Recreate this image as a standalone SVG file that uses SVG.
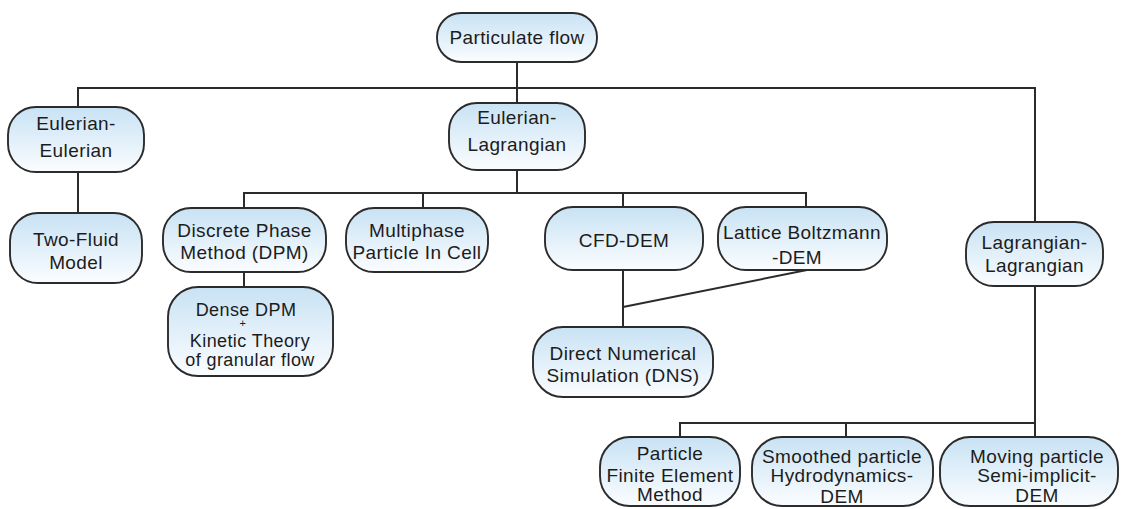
<svg xmlns="http://www.w3.org/2000/svg" width="1121" height="509" viewBox="0 0 1121 509">
  <defs>
    <linearGradient id="boxFill" x1="0" y1="0" x2="0" y2="1">
      <stop offset="0" stop-color="#c8e2f4"/>
      <stop offset="1" stop-color="#fbfdff"/>
    </linearGradient>
  </defs>
  <style>
    .box { fill: url(#boxFill); stroke: #2b2b2b; stroke-width: 1.9; }
    .lbl { font-family: "Liberation Sans", Arial, sans-serif; font-size: 19px; fill: #1c1c1c; text-anchor: middle; letter-spacing: 0.4px; }
    .tight { font-size: 18px; }
    .plus { font-size: 11px; }
    .wire { fill: none; stroke: #2b2b2b; stroke-width: 2; }
  </style>
  <rect width="1121" height="509" fill="#ffffff"/>

  <!-- tree connectors -->
  <g id="connectors" class="wire">
    <path d="M517 62 V103"/>
    <path d="M78 107 V88 H1035 V222"/>
    <path d="M78 172 V213"/>
    <path d="M517 170 V193"/>
    <path d="M244 208 V193 H806 V207"/>
    <path d="M423 193 V208"/>
    <path d="M623 193 V207"/>
    <path d="M244 272 V287"/>
    <path d="M623 270 V327"/>
    <path d="M623 307 L807 270"/>
    <path d="M1035 286 V437"/>
    <path d="M680 437 V423 H1035"/>
    <path d="M846 423 V437"/>
  </g>

  <g id="particulate-flow">
    <rect class="box" x="437" y="13" width="160" height="49" rx="24" ry="24"/>
    <text class="lbl" x="517" y="44">Particulate flow</text>
  </g>

  <g id="eulerian-eulerian">
    <rect class="box" x="8" y="107" width="136" height="65" rx="28" ry="28"/>
    <text class="lbl" x="76" y="130">Eulerian-</text>
    <text class="lbl" x="76" y="157">Eulerian</text>
  </g>

  <g id="eulerian-lagrangian">
    <rect class="box" x="449" y="103" width="136" height="67" rx="28" ry="28"/>
    <text class="lbl" x="517" y="124">Eulerian-</text>
    <text class="lbl" x="517" y="151">Lagrangian</text>
  </g>

  <g id="two-fluid">
    <rect class="box" x="10" y="213" width="132" height="70" rx="28" ry="28"/>
    <text class="lbl" x="76" y="246">Two-Fluid</text>
    <text class="lbl" x="76" y="269">Model</text>
  </g>

  <g id="dpm">
    <rect class="box" x="163" y="208" width="163" height="64" rx="28" ry="28"/>
    <text class="lbl" x="244.5" y="237">Discrete Phase</text>
    <text class="lbl" x="244.5" y="259">Method (DPM)</text>
  </g>

  <g id="mp-pic">
    <rect class="box" x="346" y="208" width="142" height="64" rx="28" ry="28"/>
    <text class="lbl" x="417" y="237">Multiphase</text>
    <text class="lbl" x="417" y="259">Particle In Cell</text>
  </g>

  <g id="cfd-dem">
    <rect class="box" x="545" y="207" width="158" height="63" rx="28" ry="28"/>
    <text class="lbl" x="624" y="247">CFD-DEM</text>
  </g>

  <g id="lbm-dem">
    <rect class="box" x="718" y="207" width="169" height="63" rx="28" ry="28"/>
    <text class="lbl" x="802" y="239">Lattice Boltzmann</text>
    <text class="lbl" x="797" y="264">-DEM</text>
  </g>

  <g id="lagrangian-lagrangian">
    <rect class="box" x="966" y="222" width="137" height="64" rx="28" ry="28"/>
    <text class="lbl" x="1034.5" y="249">Lagrangian-</text>
    <text class="lbl" x="1034.5" y="272">Lagrangian</text>
  </g>

  <g id="dense-dpm">
    <rect class="box" x="168" y="287" width="165" height="89" rx="30" ry="30"/>
    <text class="lbl tight" x="246" y="316">Dense DPM</text>
    <text class="lbl plus" x="243" y="327">+</text>
    <text class="lbl tight" x="250" y="347">Kinetic Theory</text>
    <text class="lbl tight" x="250" y="366">of granular flow</text>
  </g>

  <g id="dns">
    <rect class="box" x="533" y="327" width="180" height="70" rx="30" ry="30"/>
    <text class="lbl" x="623" y="360">Direct Numerical</text>
    <text class="lbl" x="623" y="382">Simulation (DNS)</text>
  </g>

  <g id="pfem">
    <rect class="box" x="600" y="437" width="140" height="69" rx="30" ry="30"/>
    <text class="lbl" x="670" y="460">Particle</text>
    <text class="lbl" x="670" y="482">Finite Element</text>
    <text class="lbl" x="670" y="501">Method</text>
  </g>

  <g id="sph-dem">
    <rect class="box" x="752" y="437" width="181" height="69" rx="30" ry="30"/>
    <text class="lbl" x="842" y="463">Smoothed particle</text>
    <text class="lbl" x="842" y="482">Hydrodynamics-</text>
    <text class="lbl" x="842" y="503">DEM</text>
  </g>

  <g id="mps-dem">
    <rect class="box" x="940" y="437" width="178" height="69" rx="30" ry="30"/>
    <text class="lbl" x="1037" y="463">Moving particle</text>
    <text class="lbl" x="1037" y="482">Semi-implicit-</text>
    <text class="lbl" x="1037" y="502">DEM</text>
  </g>
</svg>
